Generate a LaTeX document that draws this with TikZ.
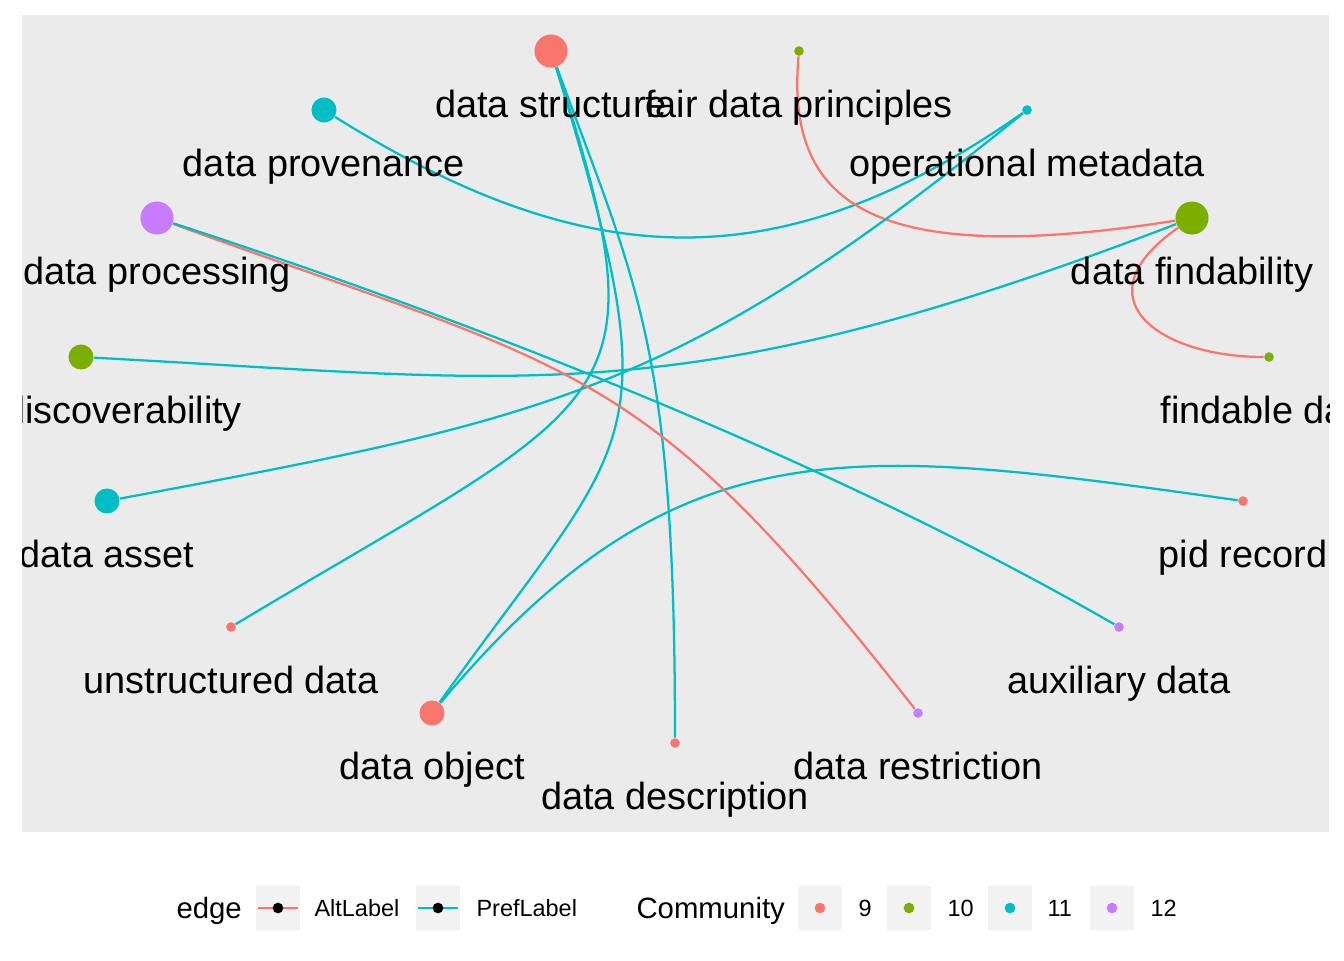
\documentclass[tikz,border=0pt]{standalone}
\usepackage{fontspec}
\setmainfont{Liberation Sans}
\usepackage{tikz}
\definecolor{c9}{HTML}{F8766D}
\definecolor{c10}{HTML}{7CAE00}
\definecolor{c11}{HTML}{00BFC4}
\definecolor{c12}{HTML}{C77CFF}
\definecolor{panelbg}{HTML}{EBEBEB}
\definecolor{keybg}{HTML}{F2F2F2}

\begin{document}
\begin{tikzpicture}[x=0.375pt, y=0.375pt,
    bigdot/.style={shape=circle,inner sep=0pt,minimum size=12.4pt},
    middot/.style={shape=circle,inner sep=0pt,minimum size=9.4pt},
    smalldot/.style={shape=circle,inner sep=0pt,minimum size=3.6pt},
    lbl/.style={anchor=base,inner sep=0pt,font=\fontsize{14.2}{17}\selectfont},
    altedge/.style={draw=c9,line width=0.85pt},
    prefedge/.style={draw=c11,line width=0.85pt},
    keybox/.style={fill=keybg,minimum size=16.5pt,inner sep=0pt},
    keydot/.style={shape=circle,fill=#1,inner sep=0pt,minimum size=4pt},
    leg/.style={anchor=base west,inner sep=0pt,font=\fontsize{8.8}{10}\selectfont}]
    \useasboundingbox (0,0) rectangle (1344,-960);
    \fill[panelbg] (22,-15) rectangle (1329,-832);
    \begin{scope}
    \clip (22,-15) rectangle (1329,-832);
    \node[bigdot,fill=c9] (structure) at (551,-51) {};
    \node[smalldot,fill=c10] (fair) at (799,-51) {};
    \node[middot,fill=c11] (provenance) at (324,-110) {};
    \node[smalldot,fill=c11] (operational) at (1027,-110) {};
    \node[bigdot,fill=c12] (processing) at (157,-218) {};
    \node[bigdot,fill=c10] (findability) at (1192,-218) {};
    \node[middot,fill=c10] (discoverability) at (81,-357) {};
    \node[smalldot,fill=c10] (findable) at (1269,-357) {};
    \node[middot,fill=c11] (asset) at (107,-501) {};
    \node[smalldot,fill=c9] (pid) at (1243,-501) {};
    \node[smalldot,fill=c9] (unstructured) at (231,-627) {};
    \node[smalldot,fill=c12] (auxiliary) at (1119,-627) {};
    \node[middot,fill=c9] (object) at (432,-713) {};
    \node[smalldot,fill=c12] (restriction) at (918,-713) {};
    \node[smalldot,fill=c9] (description) at (675,-743) {};
    \draw [prefedge](provenance) .. controls +(-32:305) and +(215:305) .. (operational);
    \draw [altedge](fair) .. controls +(265:150) and +(189:330) .. (findability);
    \draw [altedge](findability) .. controls +(215:140) and +(180:110) .. (findable);
    \draw [prefedge](findability) .. controls +(201:550) and +(-3:450) .. (discoverability);
    \draw [prefedge](operational) .. controls +(219:450) and +(10.6:450) .. (asset);
    \draw [prefedge](structure) .. controls +(-72:380) and +(31:450) .. (unstructured);
    \draw [prefedge](structure) .. controls +(-73:420) and +(54.5:350) .. (object);
    \draw [prefedge](structure) .. controls +(-70:250) and +(90:400) .. (description);
    \draw [prefedge](object) .. controls +(50:380) and +(172:400) .. (pid);
    \draw [altedge](processing) .. controls +(-20:450) and +(128:450) .. (restriction);
    \draw [prefedge](processing) .. controls +(-18:330) and +(150:330) .. (auxiliary);
    \node[lbl] (structure-txt) at (551,-117) {data structure};
    \node[lbl] (fair-txt) at (799,-117) {fair data principles};
    \node[lbl] (provenance-txt) at (324,-176) {data provenance};
    \node[lbl] (operational-txt) at (1027,-176) {operational metadata};
    \node[lbl] (processing-txt) at (157,-284) {data processing};
    \node[lbl] (findability-txt) at (1192,-284) {data findability};
    \node[lbl] (discoverability-txt) at (81,-423) {data discoverability};
    \node[lbl] (findable-txt) at (1269,-423) {findable data};
    \node[lbl] (asset-txt) at (107,-567) {data asset};
    \node[lbl] (pid-txt) at (1243,-567) {pid record};
    \node[lbl] (unstructured-txt) at (231,-693) {unstructured data};
    \node[lbl] (auxiliary-txt) at (1119,-693) {auxiliary data};
    \node[lbl] (object-txt) at (432,-779) {data object};
    \node[lbl] (restriction-txt) at (918,-779) {data restriction};
    \node[lbl] (description-txt) at (675,-809) {data description};
    \end{scope}
    \node[leg,font=\fontsize{11}{13}\selectfont] (edge-title) at (176,-918) {edge};
    \node[keybox] (k-alt) at (278,-908) {};
    \node[keybox] (k-pref) at (438,-908) {};
    \draw [altedge]([xshift=1pt]k-alt.west) -- ([xshift=-1pt]k-alt.east);
    \draw [prefedge]([xshift=1pt]k-pref.west) -- ([xshift=-1pt]k-pref.east);
    \node[keydot=black] (k-alt-dot) at (k-alt) {};
    \node[keydot=black] (k-pref-dot) at (k-pref) {};
    \node[leg] (alt-txt) at (314,-916) {AltLabel};
    \node[leg] (pref-txt) at (476,-916) {PrefLabel};
    \node[leg,font=\fontsize{11}{13}\selectfont] (comm-title) at (636,-918) {Community};
    \node[keybox] (k-9) at (820,-908) {};
    \node[keybox] (k-10) at (909,-908) {};
    \node[keybox] (k-11) at (1010,-908) {};
    \node[keybox] (k-12) at (1112,-908) {};
    \node[keydot=c9] (k-9-dot) at (k-9) {};
    \node[keydot=c10] (k-10-dot) at (k-10) {};
    \node[keydot=c11] (k-11-dot) at (k-11) {};
    \node[keydot=c12] (k-12-dot) at (k-12) {};
    \node[leg] (c9-txt) at (858,-916) {9};
    \node[leg] (c10-txt) at (947,-916) {10};
    \node[leg] (c11-txt) at (1047,-916) {11};
    \node[leg] (c12-txt) at (1150,-916) {12};
\end{tikzpicture}
\end{document}
